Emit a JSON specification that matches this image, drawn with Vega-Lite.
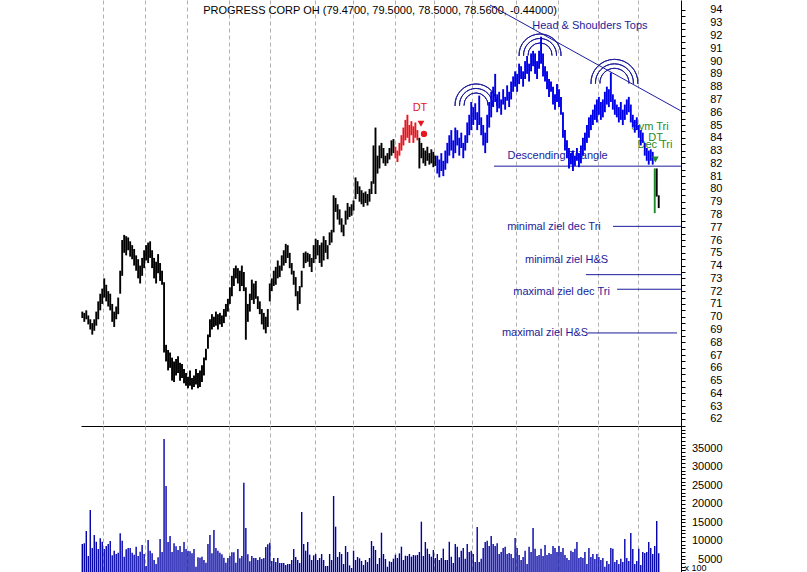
{
"$schema":"https://vega.github.io/schema/vega-lite/v6.json",
"padding":{"left":81,"top":0,"right":5,"bottom":0},
"background":"white",
"spacing":0,
"bounds":"flush",
"config":{"view":{"stroke":null},"font":"Liberation Sans","axis":{"labelFont":"Liberation Sans","labelFontSize":11,"labelColor":"#000000","domainColor":"#000000","tickColor":"#000000"}},
"datasets":{
"px":[
{"i":0,"p":69.9,"h":70.4,"v":9132,"s":"n"},{"i":1,"p":69.6,"h":70.3,"v":9312,"s":"n"},{"i":2,"p":69.8,"h":70.5,"v":12646,"s":"n"},{"i":3,"p":69.4,"h":70.1,"v":5888,"s":"n"},{"i":4,"p":69.0,"h":69.8,"v":18322,"s":"n"},{"i":5,"p":68.6,"h":69.5,"v":8050,"s":"n"},{"i":6,"p":68.9,"h":69.8,"v":11565,"s":"n"},{"i":7,"p":69.3,"h":70.4,"v":9763,"s":"n"},{"i":8,"p":69.8,"h":71.2,"v":7780,"s":"n"},{"i":9,"p":70.5,"h":71.8,"v":10664,"s":"n"},
{"i":10,"p":71.0,"h":72.2,"v":9763,"s":"n"},{"i":11,"p":71.5,"h":73.0,"v":7780,"s":"n"},{"i":12,"p":71.2,"h":72.5,"v":8591,"s":"n"},{"i":13,"p":70.8,"h":72.0,"v":9132,"s":"n"},{"i":14,"p":70.5,"h":71.8,"v":9943,"s":"n"},{"i":15,"p":69.6,"h":71.0,"v":6068,"s":"n"},{"i":16,"p":69.2,"h":70.4,"v":7330,"s":"n"},{"i":17,"p":69.8,"h":70.8,"v":6429,"s":"n"},{"i":18,"p":70.2,"h":71.5,"v":6790,"s":"n"},{"i":19,"p":71.8,"h":73.6,"v":12015,"s":"n"},
{"i":20,"p":73.2,"h":76.0,"v":10033,"s":"n"},{"i":21,"p":75.0,"h":76.4,"v":5708,"s":"n"},{"i":22,"p":74.8,"h":76.3,"v":7690,"s":"n"},{"i":23,"p":75.2,"h":76.2,"v":8050,"s":"n"},{"i":24,"p":74.7,"h":75.9,"v":8050,"s":"n"},{"i":25,"p":74.5,"h":75.6,"v":6790,"s":"n"},{"i":26,"p":74.0,"h":75.3,"v":6249,"s":"n"},{"i":27,"p":73.6,"h":74.8,"v":8411,"s":"n"},{"i":28,"p":73.0,"h":74.5,"v":5888,"s":"n"},{"i":29,"p":72.6,"h":74.0,"v":7060,"s":"n"},
{"i":30,"p":73.2,"h":74.6,"v":8861,"s":"n"},{"i":31,"p":73.8,"h":75.2,"v":6429,"s":"n"},{"i":32,"p":74.4,"h":75.6,"v":3185,"s":"n"},{"i":33,"p":74.2,"h":75.8,"v":10213,"s":"n"},{"i":34,"p":74.6,"h":75.9,"v":7330,"s":"n"},{"i":35,"p":73.8,"h":75.2,"v":6609,"s":"n"},{"i":36,"p":73.0,"h":74.6,"v":4807,"s":"n"},{"i":37,"p":72.6,"h":74.3,"v":3726,"s":"n"},{"i":38,"p":73.4,"h":74.9,"v":5528,"s":"n"},{"i":39,"p":72.8,"h":74.2,"v":10484,"s":"n"},
{"i":40,"p":72.5,"h":73.6,"v":6970,"s":"n"},{"i":41,"p":67.2,"h":72.7,"v":37513,"s":"n"},{"i":42,"p":66.5,"h":67.8,"v":24809,"s":"n"},{"i":43,"p":65.8,"h":67.4,"v":9672,"s":"n"},{"i":44,"p":66.0,"h":67.2,"v":11294,"s":"n"},{"i":45,"p":65.0,"h":66.8,"v":6970,"s":"n"},{"i":46,"p":64.9,"h":66.5,"v":9312,"s":"n"},{"i":47,"p":65.4,"h":66.7,"v":8501,"s":"n"},{"i":48,"p":65.6,"h":66.9,"v":7510,"s":"n"},{"i":49,"p":65.0,"h":66.4,"v":8591,"s":"n"},
{"i":50,"p":65.2,"h":66.3,"v":6970,"s":"n"},{"i":51,"p":64.8,"h":65.9,"v":9672,"s":"n"},{"i":52,"p":64.6,"h":65.6,"v":7780,"s":"n"},{"i":53,"p":64.4,"h":65.3,"v":7330,"s":"n"},{"i":54,"p":64.6,"h":65.8,"v":7150,"s":"n"},{"i":55,"p":64.3,"h":65.2,"v":6609,"s":"n"},{"i":56,"p":64.5,"h":65.4,"v":7780,"s":"n"},{"i":57,"p":64.7,"h":65.9,"v":3005,"s":"n"},{"i":58,"p":64.4,"h":65.6,"v":5528,"s":"n"},{"i":59,"p":64.5,"h":65.8,"v":5438,"s":"n"},
{"i":60,"p":64.9,"h":66.2,"v":5708,"s":"n"},{"i":61,"p":65.4,"h":66.8,"v":4807,"s":"n"},{"i":62,"p":66.6,"h":67.5,"v":4086,"s":"n"},{"i":63,"p":67.5,"h":68.6,"v":9132,"s":"n"},{"i":64,"p":68.4,"h":69.8,"v":11565,"s":"n"},{"i":65,"p":69.0,"h":70.2,"v":6609,"s":"n"},{"i":66,"p":69.2,"h":70.0,"v":12916,"s":"n"},{"i":67,"p":69.3,"h":70.4,"v":8050,"s":"n"},{"i":68,"p":69.0,"h":70.2,"v":7330,"s":"n"},{"i":69,"p":69.4,"h":70.3,"v":6790,"s":"n"},
{"i":70,"p":69.2,"h":70.1,"v":6339,"s":"n"},{"i":71,"p":69.5,"h":70.6,"v":5438,"s":"n"},{"i":72,"p":70.0,"h":71.0,"v":4086,"s":"n"},{"i":73,"p":70.4,"h":71.4,"v":5348,"s":"n"},{"i":74,"p":71.0,"h":72.3,"v":5888,"s":"n"},{"i":75,"p":71.6,"h":73.2,"v":6880,"s":"n"},{"i":76,"p":72.4,"h":73.8,"v":6880,"s":"n"},{"i":77,"p":73.0,"h":74.0,"v":4086,"s":"n"},{"i":78,"p":72.6,"h":73.8,"v":7780,"s":"n"},{"i":79,"p":72.0,"h":73.6,"v":5258,"s":"n"},
{"i":80,"p":72.4,"h":74.0,"v":5888,"s":"n"},{"i":81,"p":72.0,"h":73.5,"v":25710,"s":"n"},{"i":82,"p":68.2,"h":72.3,"v":13457,"s":"n"},{"i":83,"p":69.6,"h":71.0,"v":6339,"s":"n"},{"i":84,"p":70.4,"h":71.8,"v":4447,"s":"n"},{"i":85,"p":71.3,"h":72.9,"v":5888,"s":"n"},{"i":86,"p":71.0,"h":72.6,"v":5348,"s":"n"},{"i":87,"p":71.4,"h":72.8,"v":5348,"s":"n"},{"i":88,"p":70.6,"h":71.6,"v":4807,"s":"n"},{"i":89,"p":70.2,"h":71.2,"v":5528,"s":"n"},
{"i":90,"p":69.4,"h":70.6,"v":5077,"s":"n"},{"i":91,"p":69.0,"h":70.3,"v":5348,"s":"n"},{"i":92,"p":68.7,"h":70.0,"v":8321,"s":"n"},{"i":93,"p":69.2,"h":70.6,"v":9042,"s":"n"},{"i":94,"p":71.2,"h":72.6,"v":9492,"s":"n"},{"i":95,"p":72.0,"h":73.0,"v":4537,"s":"n"},{"i":96,"p":72.4,"h":73.6,"v":5348,"s":"n"},{"i":97,"p":72.5,"h":73.9,"v":4266,"s":"n"},{"i":98,"p":73.0,"h":74.4,"v":5348,"s":"n"},{"i":99,"p":73.1,"h":74.0,"v":3996,"s":"n"},
{"i":100,"p":73.6,"h":74.8,"v":3996,"s":"n"},{"i":101,"p":74.0,"h":75.2,"v":3996,"s":"n"},{"i":102,"p":74.2,"h":75.7,"v":3455,"s":"n"},{"i":103,"p":74.6,"h":75.6,"v":3726,"s":"n"},{"i":104,"p":73.8,"h":75.0,"v":3726,"s":"n"},{"i":105,"p":73.3,"h":74.2,"v":4807,"s":"n"},{"i":106,"p":72.5,"h":73.6,"v":7780,"s":"n"},{"i":107,"p":71.6,"h":73.1,"v":5618,"s":"n"},{"i":108,"p":70.5,"h":72.0,"v":4807,"s":"n"},{"i":109,"p":71.0,"h":72.4,"v":3996,"s":"n"},
{"i":110,"p":72.3,"h":73.6,"v":17781,"s":"n"},{"i":111,"p":73.8,"h":75.0,"v":9132,"s":"n"},{"i":112,"p":74.2,"h":75.1,"v":7330,"s":"n"},{"i":113,"p":74.3,"h":75.0,"v":9672,"s":"n"},{"i":114,"p":73.9,"h":74.9,"v":6249,"s":"n"},{"i":115,"p":73.5,"h":74.6,"v":4807,"s":"n"},{"i":116,"p":74.2,"h":75.6,"v":6068,"s":"n"},{"i":117,"p":74.5,"h":76.1,"v":6429,"s":"n"},{"i":118,"p":74.8,"h":76.0,"v":4807,"s":"n"},{"i":119,"p":74.2,"h":75.6,"v":5348,"s":"n"},
{"i":120,"p":73.9,"h":75.8,"v":6429,"s":"n"},{"i":121,"p":74.4,"h":76.3,"v":4807,"s":"n"},{"i":122,"p":75.0,"h":76.0,"v":3185,"s":"n"},{"i":123,"p":74.5,"h":75.6,"v":3185,"s":"n"},{"i":124,"p":75.6,"h":76.6,"v":6429,"s":"n"},{"i":125,"p":75.8,"h":76.8,"v":4807,"s":"n"},{"i":126,"p":76.6,"h":79.5,"v":22106,"s":"n"},{"i":127,"p":78.2,"h":79.3,"v":13817,"s":"n"},{"i":128,"p":77.6,"h":78.8,"v":5618,"s":"n"},{"i":129,"p":77.2,"h":78.4,"v":6970,"s":"n"},
{"i":130,"p":76.6,"h":77.7,"v":6429,"s":"n"},{"i":131,"p":76.3,"h":77.2,"v":3726,"s":"n"},{"i":132,"p":77.2,"h":78.3,"v":8591,"s":"n"},{"i":133,"p":77.6,"h":78.9,"v":6970,"s":"n"},{"i":134,"p":77.8,"h":78.6,"v":3365,"s":"n"},{"i":135,"p":77.9,"h":78.8,"v":2645,"s":"n"},{"i":136,"p":78.3,"h":79.1,"v":7330,"s":"n"},{"i":137,"p":79.2,"h":80.9,"v":4807,"s":"n"},{"i":138,"p":79.6,"h":80.6,"v":5618,"s":"n"},{"i":139,"p":79.0,"h":80.2,"v":5258,"s":"n"},
{"i":140,"p":78.8,"h":79.9,"v":4537,"s":"n"},{"i":141,"p":78.6,"h":79.7,"v":3455,"s":"n"},{"i":142,"p":78.9,"h":79.8,"v":4807,"s":"n"},{"i":143,"p":78.7,"h":79.6,"v":4266,"s":"n"},{"i":144,"p":79.0,"h":80.0,"v":5348,"s":"n"},{"i":145,"p":79.6,"h":80.6,"v":9943,"s":"n"},{"i":146,"p":80.4,"h":83.4,"v":8591,"s":"n"},{"i":147,"p":79.6,"h":84.8,"v":7510,"s":"n"},{"i":148,"p":81.2,"h":82.6,"v":3726,"s":"n"},{"i":149,"p":81.6,"h":83.4,"v":5348,"s":"n"},
{"i":150,"p":82.4,"h":83.6,"v":12195,"s":"n"},{"i":151,"p":82.0,"h":83.2,"v":6429,"s":"n"},{"i":152,"p":81.8,"h":82.6,"v":5077,"s":"n"},{"i":153,"p":82.0,"h":82.8,"v":3005,"s":"n"},{"i":154,"p":82.3,"h":83.2,"v":4447,"s":"n"},{"i":155,"p":82.6,"h":83.8,"v":4266,"s":"n"},{"i":156,"p":82.8,"h":83.9,"v":5168,"s":"n"},{"i":157,"p":82.4,"h":83.3,"v":6249,"s":"dt"},{"i":158,"p":82.1,"h":83.0,"v":5348,"s":"dt"},{"i":159,"p":82.6,"h":83.6,"v":6609,"s":"dt"},
{"i":160,"p":83.0,"h":84.2,"v":8411,"s":"dt"},{"i":161,"p":83.4,"h":84.8,"v":4807,"s":"dt"},{"i":162,"p":83.8,"h":85.4,"v":5978,"s":"dt"},{"i":163,"p":84.0,"h":85.8,"v":5888,"s":"dt"},{"i":164,"p":83.6,"h":85.0,"v":6429,"s":"dt"},{"i":165,"p":84.2,"h":85.3,"v":5708,"s":"dt"},{"i":166,"p":83.6,"h":84.9,"v":6159,"s":"dt"},{"i":167,"p":84.0,"h":85.2,"v":6068,"s":"dt"},{"i":168,"p":83.8,"h":84.6,"v":6159,"s":"dt"},{"i":169,"p":81.6,"h":84.0,"v":6970,"s":"n"},
{"i":170,"p":82.4,"h":83.6,"v":15169,"s":"n"},{"i":171,"p":82.0,"h":83.2,"v":5888,"s":"n"},{"i":172,"p":81.8,"h":83.0,"v":9672,"s":"n"},{"i":173,"p":82.2,"h":83.3,"v":7870,"s":"n"},{"i":174,"p":81.9,"h":82.8,"v":6429,"s":"n"},{"i":175,"p":82.0,"h":83.1,"v":5708,"s":"n"},{"i":176,"p":81.7,"h":82.9,"v":7510,"s":"n"},{"i":177,"p":81.8,"h":82.6,"v":5348,"s":"n"},{"i":178,"p":81.2,"h":82.6,"v":6429,"s":"hs"},{"i":179,"p":80.9,"h":82.3,"v":4807,"s":"hs"},
{"i":180,"p":81.4,"h":82.8,"v":5348,"s":"hs"},{"i":181,"p":81.0,"h":82.2,"v":7870,"s":"hs"},{"i":182,"p":81.5,"h":83.0,"v":4807,"s":"hs"},{"i":183,"p":82.0,"h":83.6,"v":4807,"s":"hs"},{"i":184,"p":82.6,"h":84.2,"v":9763,"s":"hs"},{"i":185,"p":83.0,"h":84.6,"v":5708,"s":"hs"},{"i":186,"p":82.4,"h":83.8,"v":3996,"s":"hs"},{"i":187,"p":82.8,"h":84.8,"v":9132,"s":"hs"},{"i":188,"p":83.4,"h":84.6,"v":8411,"s":"hs"},{"i":189,"p":82.6,"h":84.0,"v":5528,"s":"hs"},
{"i":190,"p":83.2,"h":84.4,"v":7330,"s":"hs"},{"i":191,"p":82.4,"h":83.6,"v":8050,"s":"hs"},{"i":192,"p":83.0,"h":84.2,"v":5168,"s":"hs"},{"i":193,"p":83.6,"h":85.2,"v":9132,"s":"hs"},{"i":194,"p":84.2,"h":85.8,"v":6970,"s":"hs"},{"i":195,"p":84.6,"h":86.8,"v":7330,"s":"hs"},{"i":196,"p":85.0,"h":86.4,"v":6429,"s":"hs"},{"i":197,"p":85.4,"h":86.7,"v":4266,"s":"hs"},{"i":198,"p":84.6,"h":86.0,"v":13727,"s":"hs"},{"i":199,"p":85.0,"h":87.3,"v":4266,"s":"hs"},
{"i":200,"p":84.2,"h":85.6,"v":5168,"s":"hs"},{"i":201,"p":83.4,"h":85.0,"v":8050,"s":"hs"},{"i":202,"p":82.8,"h":84.4,"v":9672,"s":"hs"},{"i":203,"p":83.6,"h":85.8,"v":10033,"s":"hs"},{"i":204,"p":84.8,"h":86.8,"v":8591,"s":"hs"},{"i":205,"p":85.6,"h":87.6,"v":11294,"s":"hs"},{"i":206,"p":86.4,"h":88.0,"v":9132,"s":"hs"},{"i":207,"p":86.8,"h":89.0,"v":8591,"s":"hs"},{"i":208,"p":86.0,"h":87.4,"v":9312,"s":"hs"},{"i":209,"p":86.3,"h":87.6,"v":6429,"s":"hs"},
{"i":210,"p":85.8,"h":87.0,"v":6970,"s":"hs"},{"i":211,"p":86.6,"h":87.8,"v":8050,"s":"hs"},{"i":212,"p":86.2,"h":87.2,"v":8411,"s":"hs"},{"i":213,"p":86.9,"h":88.1,"v":6429,"s":"hs"},{"i":214,"p":86.4,"h":87.6,"v":6700,"s":"hs"},{"i":215,"p":87.0,"h":88.4,"v":6429,"s":"hs"},{"i":216,"p":87.6,"h":88.8,"v":5348,"s":"hs"},{"i":217,"p":88.0,"h":89.2,"v":10754,"s":"hs"},{"i":218,"p":87.6,"h":89.0,"v":8050,"s":"hs"},{"i":219,"p":88.2,"h":89.8,"v":6159,"s":"hs"},
{"i":220,"p":88.6,"h":89.6,"v":4807,"s":"hs"},{"i":221,"p":88.0,"h":89.2,"v":5618,"s":"hs"},{"i":222,"p":88.6,"h":90.0,"v":7330,"s":"hs"},{"i":223,"p":89.0,"h":90.4,"v":3726,"s":"hs"},{"i":224,"p":88.4,"h":89.8,"v":8411,"s":"hs"},{"i":225,"p":89.2,"h":90.6,"v":6970,"s":"hs"},{"i":226,"p":89.6,"h":90.8,"v":13457,"s":"hs"},{"i":227,"p":89.0,"h":90.6,"v":7870,"s":"hs"},{"i":228,"p":88.6,"h":90.0,"v":5888,"s":"hs"},{"i":229,"p":89.4,"h":90.8,"v":6159,"s":"hs"},
{"i":230,"p":89.8,"h":91.9,"v":7870,"s":"hs"},{"i":231,"p":88.8,"h":90.6,"v":5888,"s":"hs"},{"i":232,"p":88.4,"h":89.6,"v":8861,"s":"hs"},{"i":233,"p":87.8,"h":89.2,"v":6159,"s":"hs"},{"i":234,"p":87.2,"h":88.6,"v":6700,"s":"hs"},{"i":235,"p":87.6,"h":88.4,"v":6429,"s":"hs"},{"i":236,"p":86.6,"h":88.0,"v":8591,"s":"hs"},{"i":237,"p":86.2,"h":87.4,"v":8050,"s":"hs"},{"i":238,"p":86.8,"h":88.2,"v":6970,"s":"hs"},{"i":239,"p":86.4,"h":87.8,"v":8591,"s":"hs"},
{"i":240,"p":85.8,"h":87.2,"v":6970,"s":"hs"},{"i":241,"p":84.0,"h":86.0,"v":8050,"s":"hs"},{"i":242,"p":83.0,"h":84.6,"v":6159,"s":"hs"},{"i":243,"p":82.4,"h":83.8,"v":5348,"s":"hs"},{"i":244,"p":81.6,"h":83.2,"v":4807,"s":"hs"},{"i":245,"p":81.9,"h":82.8,"v":7330,"s":"hs"},{"i":246,"p":81.4,"h":83.0,"v":6970,"s":"hs"},{"i":247,"p":81.8,"h":82.6,"v":7870,"s":"hs"},{"i":248,"p":82.2,"h":83.2,"v":9672,"s":"hs"},{"i":249,"p":81.7,"h":82.8,"v":5348,"s":"hs"},
{"i":250,"p":82.0,"h":83.4,"v":5618,"s":"hs"},{"i":251,"p":82.6,"h":84.0,"v":5348,"s":"hs"},{"i":252,"p":83.0,"h":84.4,"v":6970,"s":"hs"},{"i":253,"p":83.6,"h":85.0,"v":3726,"s":"hs"},{"i":254,"p":84.0,"h":85.6,"v":8050,"s":"hs"},{"i":255,"p":84.6,"h":85.8,"v":5618,"s":"hs"},{"i":256,"p":85.0,"h":86.2,"v":6429,"s":"hs"},{"i":257,"p":85.4,"h":86.6,"v":5077,"s":"hs"},{"i":258,"p":85.2,"h":87.0,"v":6429,"s":"hs"},{"i":259,"p":85.8,"h":87.2,"v":5618,"s":"hs"},
{"i":260,"p":85.4,"h":86.8,"v":4807,"s":"hs"},{"i":261,"p":85.6,"h":87.0,"v":5348,"s":"hs"},{"i":262,"p":86.0,"h":87.6,"v":3005,"s":"hs"},{"i":263,"p":86.6,"h":88.0,"v":4537,"s":"hs"},{"i":264,"p":86.4,"h":87.8,"v":3726,"s":"hs"},{"i":265,"p":86.8,"h":89.1,"v":8050,"s":"hs"},{"i":266,"p":86.2,"h":87.4,"v":7870,"s":"hs"},{"i":267,"p":85.8,"h":87.0,"v":4266,"s":"hs"},{"i":268,"p":85.6,"h":86.6,"v":4807,"s":"hs"},{"i":269,"p":85.2,"h":86.4,"v":3726,"s":"hs"},
{"i":270,"p":85.4,"h":86.8,"v":5168,"s":"hs"},{"i":271,"p":85.0,"h":86.2,"v":4266,"s":"hs"},{"i":272,"p":85.4,"h":86.6,"v":10484,"s":"hs"},{"i":273,"p":85.8,"h":87.0,"v":5348,"s":"hs"},{"i":274,"p":86.0,"h":87.2,"v":4537,"s":"hs"},{"i":275,"p":85.2,"h":86.6,"v":12105,"s":"hs"},{"i":276,"p":84.8,"h":85.8,"v":7780,"s":"hs"},{"i":277,"p":84.4,"h":85.4,"v":3726,"s":"hs"},{"i":278,"p":84.6,"h":85.6,"v":4537,"s":"hs"},{"i":279,"p":84.0,"h":85.0,"v":7870,"s":"hs"},
{"i":280,"p":83.4,"h":84.6,"v":3455,"s":"hs"},{"i":281,"p":83.6,"h":84.4,"v":6970,"s":"hs"},{"i":282,"p":82.6,"h":83.6,"v":6700,"s":"hs"},{"i":283,"p":82.2,"h":83.2,"v":6970,"s":"hs"},{"i":284,"p":81.9,"h":83.0,"v":9672,"s":"hs"},{"i":285,"p":82.2,"h":83.1,"v":8050,"s":"hs"},{"i":286,"p":81.9,"h":82.9,"v":6429,"s":"hs"},{"i":287,"p":78.1,"h":81.6,"v":8591,"s":"tri"},{"i":288,"p":79.4,"h":81.6,"v":15349,"s":"n"},{"i":289,"p":78.5,"h":79.5,"v":6609,"s":"n"}
],
"notes":[
{"i":149.3,"p":93.92,"t":"PROGRESS CORP OH (79.4700, 79.5000, 78.5000, 78.5600, -0.44000)","s":"n"},
{"i":254.5,"p":92.75,"t":"Head & Shoulders Tops","s":"ann"},
{"i":169.3,"p":86.33,"t":"DT","s":"dt"},
{"i":238.3,"p":82.6,"t":"Descending Triangle","s":"ann"},
{"i":284.6,"p":84.85,"t":"Sym Tri","s":"tri"},
{"i":287.4,"p":83.98,"t":"DT","s":"tri"},
{"i":287.1,"p":83.44,"t":"Dec Tri","s":"tri"},
{"i":236.5,"p":77.04,"t":"minimal ziel dec Tri","s":"ann"},
{"i":242.8,"p":74.44,"t":"minimal ziel H&S","s":"ann"},
{"i":240.3,"p":71.96,"t":"maximal ziel dec Tri","s":"ann"},
{"i":232,"p":68.7,"t":"maximal ziel H&S","s":"ann"}
],
"hl":[
{"i":206.4,"i2":300.17,"p":81.78,"s":"ann"},
{"i":266.1,"i2":300.17,"p":77.07,"s":"ann"},
{"i":252.5,"i2":300.17,"p":73.29,"s":"ann"},
{"i":268.1,"i2":300.17,"p":72.15,"s":"ann"},
{"i":253.5,"i2":298.2,"p":68.73,"s":"ann"}
],
"tr":[{"i":204.4,"p":94.39,"s":"ann"},{"i":300.17,"p":86.1,"s":"ann"}],
"a1":[{"i":197.4,"p":86.57,"s":"ann"},{"i":229.5,"p":90.48,"s":"ann"}],
"a2":[{"i":266.8,"p":88.3,"s":"ann"}],
"tri":[{"i":169.8,"p":85.1,"s":"dt"},{"i":287.3,"p":82.3,"s":"tri"}],
"dot":[{"i":171.3,"p":84.3,"s":"dt"}]
},
"vconcat":[
{
"width":600,"height":426,
"encoding":{
  "x":{"field":"i","type":"quantitative","scale":{"domain":[-0.65,300.17],"nice":false,"zero":false},
   "axis":{"orient":"bottom","values":[10.5,31.6,52.6,73.4,94.3,116.5,135.6,156.9,176.5,195.5,217.6,238.7,258.4,278.8],"grid":true,"gridDash":[4,3],"gridColor":"#b0b0b0","labels":false,"ticks":false,"domain":true,"domainColor":"#000000","domainWidth":1.2,"title":null,"minExtent":0}},
  "y":{"field":"p","type":"quantitative","scale":{"domain":[61.45,94.78],"nice":false,"zero":false},
   "axis":{"orient":"right","values":[62,62.5,63,63.5,64,64.5,65,65.5,66,66.5,67,67.5,68,68.5,69,69.5,70,70.5,71,71.5,72,72.5,73,73.5,74,74.5,75,75.5,76,76.5,77,77.5,78,78.5,79,79.5,80,80.5,81,81.5,82,82.5,83,83.5,84,84.5,85,85.5,86,86.5,87,87.5,88,88.5,89,89.5,90,90.5,91,91.5,92,92.5,93,93.5,94],"format":".0f","labelExpr":"datum.value % 1 === 0 ? datum.label : ''","tickSize":4,"labelAlign":"right","labelPadding":37,"grid":false,"title":null,"labelOverlap":false,"labelFlush":false,"labelBound":false}},
  "color":{"field":"s","type":"nominal","scale":{"domain":["n","dt","hs","tri","ann"],"range":["#000000","#e8141e","#0000e6","#1e8c28","#1c1c9c"]},"legend":null}
},
"layer":[
{"data":{"name":"notes"},"mark":{"type":"text","font":"Liberation Sans","fontSize":11,"align":"center","baseline":"middle"},
 "encoding":{"text":{"field":"t"}}},
{"data":{"name":"tr"},"mark":{"type":"line","strokeWidth":1}},
{"data":{"name":"hl"},"mark":{"type":"rule","strokeWidth":1},"encoding":{"x2":{"field":"i2"}}},
{"data":{"name":"a1"},"mark":{"type":"arc","theta":-1.62,"theta2":1.62,"radius":21,"radius2":21,"filled":false,"strokeWidth":1}},
{"data":{"name":"a1"},"mark":{"type":"arc","theta":-1.62,"theta2":1.62,"radius":16.5,"radius2":16.5,"filled":false,"strokeWidth":1}},
{"data":{"name":"a1"},"mark":{"type":"arc","theta":-1.62,"theta2":1.62,"radius":12,"radius2":12,"filled":false,"strokeWidth":1}},
{"data":{"name":"a2"},"mark":{"type":"arc","theta":-1.62,"theta2":1.62,"radius":23.5,"radius2":23.5,"filled":false,"strokeWidth":1}},
{"data":{"name":"a2"},"mark":{"type":"arc","theta":-1.62,"theta2":1.62,"radius":19,"radius2":19,"filled":false,"strokeWidth":1}},
{"data":{"name":"a2"},"mark":{"type":"arc","theta":-1.62,"theta2":1.62,"radius":14.5,"radius2":14.5,"filled":false,"strokeWidth":1}},
{"data":{"name":"px"},"mark":{"type":"rule","strokeWidth":1.9},"encoding":{"y2":{"field":"h"}}},
{"data":{"name":"tri"},"mark":{"type":"point","shape":"triangle-down","filled":true,"size":45,"opacity":1}},
{"data":{"name":"dot"},"mark":{"type":"point","shape":"circle","filled":true,"size":40,"opacity":1}}
]
},
{
"width":600,"height":146,
"data":{"name":"px"},
"mark":{"type":"rule","color":"#0000a8","strokeWidth":1.4,"clip":true},
"encoding":{
 "x":{"field":"i","type":"quantitative","scale":{"domain":[-0.65,300.17],"nice":false,"zero":false},
  "axis":{"values":[10.5,31.6,52.6,73.4,94.3,116.5,135.6,156.9,176.5,195.5,217.6,238.7,258.4,278.8],"grid":true,"gridDash":[4,3],"gridColor":"#b0b0b0","labels":false,"ticks":false,"domain":false,"title":null}},
 "y":{"field":"v","type":"quantitative","scale":{"domain":[1568,41027],"nice":false,"zero":false},
  "axis":{"orient":"right","values":[2000,3000,4000,5000,6000,7000,8000,9000,10000,11000,12000,13000,14000,15000,16000,17000,18000,19000,20000,21000,22000,23000,24000,25000,26000,27000,28000,29000,30000,31000,32000,33000,34000,35000,36000,37000,38000,39000,40000,41000],"format":"d","labelExpr":"datum.value % 5000 === 0 && datum.value <= 35000 ? datum.label : ''","tickSize":4,"labelAlign":"right","labelPadding":37,"grid":false,"labelOverlap":false,"labelFlush":false,"labelBound":false,"title":"x 100","titleAngle":0,"titleX":3,"titleY":141,"titleAlign":"left","titleBaseline":"middle","titleFontSize":9,"titleFontWeight":"normal","titleFont":"Liberation Sans"}},
 "y2":{"datum":0}
}
}
]
}
